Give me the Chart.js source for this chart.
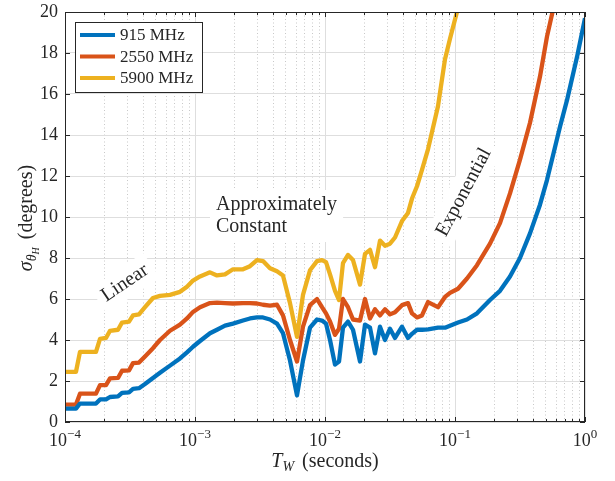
<!DOCTYPE html>
<html>
<head>
<meta charset="utf-8">
<script src="https://cdn.jsdelivr.net/npm/chart.js@4"></script>
<style>
  html, body { margin: 0; padding: 0; background: #fff; }
  canvas { display: block; }
</style>
</head>
<body>
<canvas id="grafico" width="615" height="481"></canvas>
<script>
// Ventana de observación T_W (segundos), eje logarítmico
const tw = [
  1.000e-4, 1.215e-4, 1.304e-4, 1.731e-4, 1.859e-4, 2.067e-4, 2.219e-4, 2.557e-4,
  2.745e-4, 3.107e-4, 3.335e-4, 3.710e-4, 4.124e-4, 4.751e-4, 5.380e-4, 6.422e-4,
  7.665e-4, 8.678e-4, 9.652e-4, 1.093e-3, 1.304e-3, 1.476e-3, 1.701e-3, 1.960e-3,
  2.339e-3, 2.649e-3, 2.998e-3, 3.335e-3, 3.775e-3, 4.273e-3, 4.751e-3, 5.380e-3,
  6.089e-3, 6.772e-3, 7.665e-3, 8.678e-3, 9.483e-3, 1.018e-2, 1.093e-2, 1.194e-2,
  1.282e-2, 1.375e-2, 1.503e-2, 1.642e-2, 1.859e-2, 2.031e-2, 2.219e-2, 2.424e-2,
  2.649e-2, 2.894e-2, 3.162e-2, 3.455e-2, 3.911e-2, 4.350e-2, 4.669e-2, 5.100e-2,
  5.572e-2, 6.198e-2, 7.398e-2, 8.377e-2, 9.153e-2, 0.1055, 0.1237, 0.1476,
  0.1859, 0.2219, 0.2649, 0.3162, 0.3775, 0.4506, 0.5100, 0.5672, 0.6422,
  0.7270, 0.8678, 1.0
];

// Desviación sigma_thetaH (grados) para cada frecuencia
const sigma915 = [
  0.65, 0.65, 0.9, 0.9, 1.1, 1.1, 1.22, 1.25, 1.42, 1.45, 1.62, 1.65, 1.85, 2.15, 2.4, 2.75,
  3.1, 3.4, 3.67, 3.95, 4.33, 4.5, 4.7, 4.8, 4.95, 5.05, 5.1, 5.1, 5.0, 4.8, 4.33, 3.0,
  1.3, 3.0, 4.6, 5.0, 4.95, 4.8, 4.0, 2.8, 2.95, 4.6, 4.9, 4.5, 2.95, 4.75,
  4.6, 3.35, 4.65, 4.0, 4.55, 4.1, 4.65, 4.1, 4.3, 4.5, 4.5, 4.52, 4.6, 4.6, 4.7, 4.85,
  5.0, 5.3, 5.95, 6.4, 7.1, 8.0, 9.2, 10.6, 11.8, 13.0, 14.4, 15.7, 17.8, 19.7
];
const sigma2550 = [
  0.85, 0.85, 1.38, 1.38, 1.8, 1.8, 2.13, 2.15, 2.5, 2.52, 2.87, 2.9, 3.2, 3.6, 4.0, 4.45,
  4.75, 5.05, 5.37, 5.6, 5.8, 5.82, 5.8, 5.78, 5.8, 5.8, 5.78, 5.72, 5.68, 5.72, 5.2, 4.0,
  2.95, 4.65, 5.7, 6.0, 5.6, 5.3, 4.9, 4.25, 4.55, 6.0, 5.6, 5.0, 4.95, 6.0,
  5.05, 5.5, 5.2, 5.5, 5.25, 5.35, 5.7, 5.8, 5.3, 5.1, 5.2, 5.85, 5.6, 6.1, 6.3, 6.5,
  7.0, 7.65, 8.7, 9.7, 11.15, 12.8, 14.6, 16.85, 18.8, 20.1, 21.7, null, null, null
];
const sigma5900 = [
  2.45, 2.45, 3.42, 3.42, 4.05, 4.1, 4.45, 4.5, 4.85, 4.9, 5.2, 5.25, 5.6, 6.05, 6.15, 6.2,
  6.35, 6.6, 6.9, 7.1, 7.3, 7.15, 7.2, 7.45, 7.45, 7.6, 7.9, 7.85, 7.5, 7.35, 7.15, 5.8,
  4.15, 6.2, 7.4, 7.85, 7.9, 7.8, 7.2, 6.4, 5.95, 7.75, 8.15, 7.9, 6.7, 8.2,
  8.4, 7.55, 8.85, 8.6, 8.7, 9.0, 9.8, 10.2, 10.9, 11.5, 12.3, 13.3, 15.4, 17.7, 18.7, 20.2,
  23.0, null, null, null, null, null, null, null, null, null, null, null, null, null
];

const nombres = ['915 MHz', '2550 MHz', '5900 MHz'];
const colores = ['#0072BD', '#D95319', '#EDB120'];
const exponentesX = [-4, -3, -2, -1, 0];
const ticksY = [0, 2, 4, 6, 8, 10, 12, 14, 16, 18, 20];

const FUENTE = '"Liberation Serif", "DejaVu Serif", serif';
const TINTA = '#262626';

function esDecada(v) {
  if (!v) return false;
  const l = Math.log10(v);
  return Math.abs(l - Math.round(l)) < 1e-6;
}

// Dibuja un texto compuesto por trozos (subíndices, superíndices)
function textoRico(ctx, trozos, x, y, centrado) {
  let total = 0;
  trozos.forEach(p => {
    ctx.font = (p.italic ? 'italic ' : '') + p.size + 'px ' + FUENTE;
    p.w = ctx.measureText(p.text).width;
    total += p.w + (p.gap || 0);
  });
  let cx = centrado ? x - total / 2 : x;
  trozos.forEach(p => {
    ctx.font = (p.italic ? 'italic ' : '') + p.size + 'px ' + FUENTE;
    ctx.fillText(p.text, cx, y + (p.dy || 0));
    cx += p.w + (p.gap || 0);
  });
}

// Anotaciones sobre el gráfico con fondo blanco
const notas = [
  { lineas: ['Linear'], t: 2.89e-4, s: 6.78, angulo: -34 },
  { lineas: ['Approximately', 'Constant'], t: 4.24e-3, s: 10.05, angulo: 0 },
  { lineas: ['Exponential'], t: 0.117, s: 11.2, angulo: -62 }
];

const decoraciones = {
  id: 'decoraciones',
  beforeDatasetsDraw(chart) {
    const { ctx, scales: { x, y } } = chart;
    ctx.save();
    ctx.font = '20px ' + FUENTE;
    ctx.textBaseline = 'middle';
    ctx.textAlign = 'left';
    notas.forEach(n => {
      const px = x.getPixelForValue(n.t);
      const py = y.getPixelForValue(n.s);
      const ancho = Math.max(...n.lineas.map(l => ctx.measureText(l).width));
      const alto = n.lineas.length * 22;
      ctx.save();
      ctx.translate(px, py);
      ctx.rotate(n.angulo * Math.PI / 180);
      ctx.fillStyle = '#fff';
      ctx.fillRect(-ancho / 2 - 6, -alto / 2 - 4, ancho + 12, alto + 8);
      ctx.fillStyle = TINTA;
      n.lineas.forEach((l, i) => {
        ctx.fillText(l, -ancho / 2, -alto / 2 + 11 + i * 22);
      });
      ctx.restore();
    });
    ctx.restore();
  },
  afterDatasetsDraw(chart) {
    const { ctx, chartArea: a, scales: { x, y } } = chart;
    ctx.save();

    // marco de los ejes
    ctx.strokeStyle = TINTA;
    ctx.lineWidth = 1;
    ctx.strokeRect(a.left + 0.5, a.top + 0.5, a.right - a.left - 1, a.bottom - a.top - 1);

    // marcas hacia dentro
    ctx.beginPath();
    x.ticks.forEach(t => {
      const px = Math.round(x.getPixelForValue(t.value)) + 0.5;
      const len = esDecada(t.value) ? 5 : 3;
      ctx.moveTo(px, a.bottom); ctx.lineTo(px, a.bottom - len);
      ctx.moveTo(px, a.top); ctx.lineTo(px, a.top + len);
    });
    ticksY.forEach(v => {
      const py = Math.round(y.getPixelForValue(v)) + 0.5;
      ctx.moveTo(a.left, py); ctx.lineTo(a.left + 5, py);
      ctx.moveTo(a.right, py); ctx.lineTo(a.right - 5, py);
    });
    ctx.stroke();

    // etiquetas 10^n del eje x
    ctx.fillStyle = TINTA;
    ctx.textBaseline = 'alphabetic';
    ctx.textAlign = 'left';
    exponentesX.forEach(e => {
      const px = x.getPixelForValue(Math.pow(10, e));
      const exp = e < 0 ? '\u2212' + (-e) : String(e);
      textoRico(ctx, [
        { text: '10', size: 18 },
        { text: exp, size: 13, dy: -8 }
      ], px, 446, true);
    });

    // título del eje x
    textoRico(ctx, [
      { text: 'T', size: 20, italic: true },
      { text: 'W', size: 14, italic: true, dy: 4, gap: 8 },
      { text: '(seconds)', size: 20 }
    ], 325, 467, true);

    // título del eje y
    ctx.save();
    ctx.translate(32, 218);
    ctx.rotate(-Math.PI / 2);
    textoRico(ctx, [
      { text: '\u03C3', size: 20, italic: true },
      { text: '\u03B8', size: 14, italic: true, dy: 4 },
      { text: 'H', size: 10, italic: true, dy: 7, gap: 8 },
      { text: '(degrees)', size: 20 }
    ], 0, 0, true);
    ctx.restore();

    // leyenda
    const lx = 75, ly = 22, lw = 127, lh = 70;
    ctx.fillStyle = '#fff';
    ctx.fillRect(lx, ly, lw, lh);
    ctx.strokeStyle = TINTA;
    ctx.lineWidth = 1;
    ctx.strokeRect(lx + 0.5, ly + 0.5, lw, lh);
    ctx.font = '17px ' + FUENTE;
    ctx.textBaseline = 'middle';
    nombres.forEach((nombre, i) => {
      const fy = ly + 13 + i * 21.5;
      ctx.strokeStyle = colores[i];
      ctx.lineWidth = 4;
      ctx.beginPath();
      ctx.moveTo(lx + 5, fy); ctx.lineTo(lx + 40, fy);
      ctx.stroke();
      ctx.fillStyle = TINTA;
      ctx.fillText(nombre, lx + 45, fy + 1);
    });
    ctx.restore();
  }
};

const series = [sigma915, sigma2550, sigma5900];

const ctx = document.getElementById('grafico').getContext('2d');
const grafico = new Chart(ctx, {
  type: 'line',
  data: {
    datasets: series.map((vals, i) => ({
      label: nombres[i],
      data: tw.map((t, j) => ({ x: t, y: vals[j] })),
      borderColor: colores[i],
      backgroundColor: colores[i],
      borderWidth: 4.3,
      pointRadius: 0,
      tension: 0,
      borderJoinStyle: 'round',
      clip: 0
    }))
  },
  options: {
    responsive: false,
    animation: false,
    devicePixelRatio: 1,
    layout: { padding: { top: 12, right: 30, left: 0, bottom: 0 } },
    plugins: { legend: { display: false }, tooltip: { enabled: false } },
    scales: {
      x: {
        type: 'logarithmic',
        min: 1e-4,
        max: 1,
        afterBuildTicks(scale) {
          const ticks = [];
          exponentesX.forEach(e => {
            const base = Math.pow(10, e);
            const tope = e === 0 ? 1 : 9;
            for (let m = 1; m <= tope; m++) ticks.push({ value: m * base });
          });
          scale.ticks = ticks;
        },
        afterFit(scale) {
          scale.height = 59;
          scale.paddingLeft = 0;
          scale.paddingRight = 0;
        },
        ticks: { display: false },
        grid: {
          drawTicks: false,
          lineWidth: 1,
          color: c => esDecada(c.tick && c.tick.value) ? '#dedede' : '#c8c8c8'
        },
        border: {
          display: false,
          dash: c => (c.tick && !esDecada(c.tick.value)) ? [1, 2.5] : []
        }
      },
      y: {
        min: 0,
        max: 20,
        afterBuildTicks(scale) {
          scale.ticks = ticksY.map(v => ({ value: v }));
        },
        afterFit(scale) {
          scale.width = 65;
          scale.paddingTop = 0;
          scale.paddingBottom = 0;
        },
        ticks: {
          color: TINTA,
          padding: 7,
          font: { family: FUENTE, size: 18 }
        },
        grid: { drawTicks: false, color: '#dedede', lineWidth: 1 },
        border: { display: false }
      }
    }
  },
  plugins: [decoraciones]
});
</script>
</body>
</html>
